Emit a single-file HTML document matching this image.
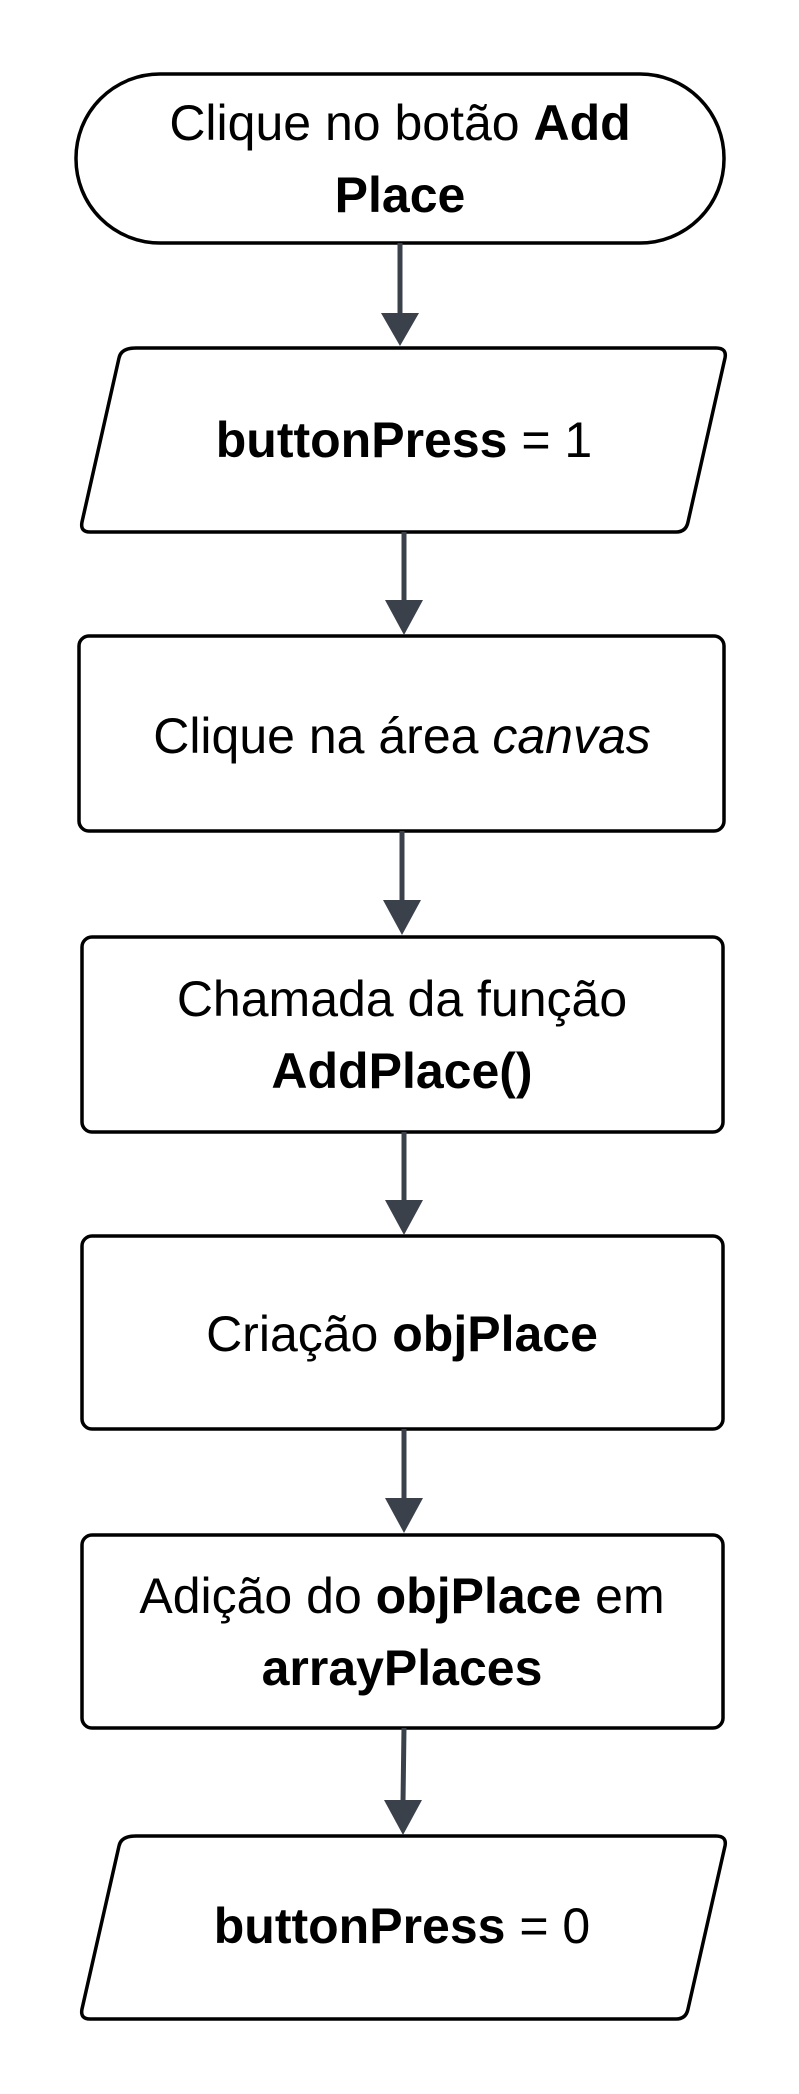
<!DOCTYPE html>
<html><head><meta charset="utf-8"><style>
html,body{margin:0;padding:0;background:#fff;}
svg{display:block;}
text{font-family:"Liberation Sans",sans-serif;font-size:50px;fill:#000;}
.b{font-weight:bold;}
</style></head><body>
<svg width="799" height="2094" viewBox="0 0 799 2094" xmlns="http://www.w3.org/2000/svg">
<g fill="#fff" stroke="#000" stroke-width="3.5" stroke-linejoin="round">
<rect x="76" y="74" width="648" height="169" rx="84" ry="84"/>
<path d="M136 348 L716 348 Q727 348 725 358 L688 522 Q686 532 676 532 L90 532 Q80 532 82 522 L119 358 Q121 348 136 348 Z"/>
<rect x="79" y="636" width="645" height="195" rx="10"/>
<rect x="82" y="937" width="641" height="195" rx="10"/>
<rect x="82" y="1236" width="641" height="193" rx="10"/>
<rect x="82" y="1535" width="641" height="193" rx="10"/>
<path d="M136 1836 L716 1836 Q727 1836 725 1846 L688 2009 Q686 2019 676 2019 L90 2019 Q80 2019 82 2009 L119 1846 Q121 1836 136 1836 Z"/>
</g>
<g stroke="#3b414b" stroke-width="5">
<line x1="400" y1="243" x2="400" y2="318"/>
<line x1="404" y1="532" x2="404" y2="605"/>
<line x1="402" y1="831" x2="402" y2="905"/>
<line x1="404" y1="1132" x2="404" y2="1205"/>
<line x1="404" y1="1429" x2="404" y2="1503"/>
<line x1="404" y1="1728" x2="403" y2="1802"/>
</g>
<g fill="#3b414b">
<path d="M381 313 L419 313 L400 346 Z"/>
<path d="M385 600 L423 600 L404 635 Z"/>
<path d="M383 900 L421 900 L402 935 Z"/>
<path d="M385 1200 L423 1200 L404 1235 Z"/>
<path d="M385 1498 L423 1498 L404 1533 Z"/>
<path d="M384 1800 L422 1800 L403 1835 Z"/>
</g>
<text x="400" y="140" text-anchor="middle">Clique no botão <tspan class="b">Add</tspan></text>
<text x="400" y="212" text-anchor="middle" class="b">Place</text>
<text x="404" y="457" text-anchor="middle"><tspan class="b">buttonPress</tspan> = 1</text>
<text x="402" y="753" text-anchor="middle">Clique na área <tspan font-style="italic">canvas</tspan></text>
<text x="402" y="1016" text-anchor="middle">Chamada da função</text>
<text x="402" y="1088" text-anchor="middle" class="b">AddPlace()</text>
<text x="402" y="1351" text-anchor="middle">Criação <tspan class="b">objPlace</tspan></text>
<text x="402" y="1613" text-anchor="middle">Adição do <tspan class="b">objPlace</tspan> em</text>
<text x="402" y="1685" text-anchor="middle" class="b">arrayPlaces</text>
<text x="402" y="1943" text-anchor="middle"><tspan class="b">buttonPress</tspan> = 0</text>
</svg>
</body></html>
